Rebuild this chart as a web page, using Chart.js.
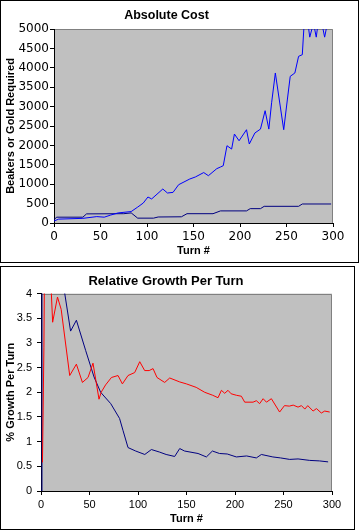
<!DOCTYPE html>
<html>
<head>
<meta charset="utf-8">
<script src="https://cdn.jsdelivr.net/npm/chart.js@4/dist/chart.umd.min.js"></script>
<style>
  html, body { margin: 0; padding: 0; background: #fff; }
  body { position: relative; width: 360px; height: 530px; overflow: hidden; }
  .box { position: absolute; border: 1px solid #000; box-sizing: border-box; background: #fff; }
  canvas { position: absolute; left: 0; }
</style>
</head>
<body>
<div class="box" style="left:0;top:0;width:359px;height:263px;"></div>
<div class="box" style="left:0;top:266px;width:355px;height:264px;"></div>
<canvas id="costChart" width="356" height="262" style="top:0;"></canvas>
<canvas id="growthChart" width="352" height="264" style="top:266px;"></canvas>
<script>
// ---- Absolute Cost (top) ----
const costTurnsA = [0, 5, 31, 46, 54, 61, 69, 83, 90, 96, 101, 105, 117, 122, 128, 134, 146, 152, 161, 166, 175, 179, 182, 186, 191, 194, 199, 207, 210, 216, 222, 227, 231, 234, 238, 247, 251, 254, 259, 263, 267, 269, 273, 275, 279, 282, 284, 288, 291, 294, 296];
const costValuesA = [50, 100, 120, 165, 150, 205, 260, 295, 410, 515, 670, 620, 876, 773, 789, 987, 1134, 1186, 1300, 1219, 1400, 1443, 1477, 1992, 1906, 2293, 2120, 2404, 2036, 2320, 2420, 2894, 2420, 3100, 3866, 2405, 3195, 3780, 3866, 4295, 4338, 5150, 5150, 4790, 5150, 4790, 5150, 5150, 4790, 5150, 5150];
const costTurnsB = [0, 3, 31, 35, 75, 83, 90, 107, 112, 137, 143, 171, 179, 207, 211, 222, 226, 263, 267, 298];
const costValuesB = [90, 150, 150, 235, 240, 260, 125, 125, 155, 160, 240, 240, 312, 312, 370, 370, 430, 430, 490, 490];

// ---- Relative Growth Per Turn (bottom) ----
const growthTurnsRed = [1.5, 3, 4.5, 10, 12, 17, 20.8, 29.6, 36.5, 42.7, 48.5, 53.6, 59.8, 62, 66.6, 72.6, 79.4, 83.9, 89.7, 96.6, 101.8, 106.9, 111.5, 115.5, 119.6, 127.5, 132.7, 143, 150, 160, 168.8, 177, 182.5, 186, 189.4, 192.8, 196, 201.4, 206.6, 210, 218.6, 222, 225.4, 229, 232.4, 237.5, 246, 251, 256, 260, 265, 268.5, 272, 275, 280.5, 284, 289, 292.5, 297.6];
const growthValuesRed = [0.58, 2.9, 7, 4.3, 3.42, 3.93, 3.68, 2.34, 2.57, 2.2, 2.3, 2.59, 1.86, 2.0, 2.15, 2.3, 2.34, 2.17, 2.34, 2.4, 2.62, 2.44, 2.44, 2.48, 2.3, 2.2, 2.29, 2.21, 2.17, 2.1, 2.0, 1.94, 1.89, 2.04, 1.98, 2.04, 1.97, 1.94, 1.92, 1.8, 1.8, 1.83, 1.77, 1.87, 1.8, 1.87, 1.6, 1.73, 1.72, 1.74, 1.7, 1.73, 1.66, 1.73, 1.62, 1.67, 1.58, 1.62, 1.6];
const growthTurnsNavy = [0, 1, 17, 24.5, 30.5, 36.5, 46, 54.7, 61.5, 71.9, 81, 84.5, 89.7, 97.6, 107, 113.8, 122, 129, 137.8, 143, 148, 161.9, 170.5, 176.7, 184, 192, 201.4, 212, 222, 227.2, 239, 247, 256.4, 265, 277, 287, 296];
const growthValuesNavy = [0, 30, 5.0, 4.0, 3.24, 3.46, 2.85, 2.31, 2.0, 1.77, 1.47, 1.23, 0.88, 0.81, 0.74, 0.84, 0.79, 0.74, 0.70, 0.86, 0.81, 0.76, 0.69, 0.81, 0.76, 0.75, 0.69, 0.71, 0.67, 0.74, 0.69, 0.67, 0.64, 0.65, 0.62, 0.61, 0.59];

const SANS = "'Liberation Sans', Arial, sans-serif";
const WIDE_TICK_FONT = { family: "'DejaVu Sans', sans-serif", size: 12 };   // top chart ticks are wider
const TICK_FONT = { family: SANS, size: 11 };
const BOLD_FONT = { family: SANS, size: 11, weight: 'bold' };

const pts = (xs, ys) => xs.map((x, i) => ({ x, y: ys[i] }));

// grey plot area with a grey frame on top/right (Excel style)
const plotBg = {
    id: 'plotBg',
    beforeDraw(chart) {
        const { ctx, chartArea: a } = chart;
        ctx.save();
        ctx.fillStyle = '#c0c0c0';
        ctx.fillRect(a.left, a.top, a.width, a.height);
        ctx.strokeStyle = '#808080';
        ctx.lineWidth = 1;
        ctx.beginPath();
        ctx.moveTo(a.left, Math.round(a.top) + 0.5);
        ctx.lineTo(Math.round(a.right) - 0.5, Math.round(a.top) + 0.5);
        ctx.lineTo(Math.round(a.right) - 0.5, a.bottom);
        ctx.stroke();
        ctx.restore();
    }
};

function axis(min, max, step, title, size, tickFont, tickPad) {
    return {
        type: 'linear', min, max,
        ticks: { stepSize: step, color: '#000', font: tickFont, padding: tickPad, callback: v => String(v) },
        grid: { drawOnChartArea: false, drawTicks: true, tickLength: 4, color: '#000', tickColor: '#000' },
        border: { color: '#000', width: 1 },
        title: { display: true, text: title, color: '#000', font: BOLD_FONT, padding: { top: 4, bottom: 4 } },
        afterFit: s => { if (s.isHorizontal()) s.height = size; else s.width = size; }
    };
}

function makeChart(id, title, titleSize, titlePad, datasets, x, y, padRight) {
    return new Chart(document.getElementById(id), {
        type: 'line',
        data: { datasets },
        options: {
            responsive: false,
            animation: false,
            layout: { padding: { left: 0, right: padRight, top: 0, bottom: 0 } },
            elements: { point: { radius: 0 }, line: { borderWidth: 1, tension: 0 } },
            plugins: {
                legend: { display: false },
                tooltip: { enabled: false },
                title: { display: true, text: title, color: '#000', font: { family: SANS, size: titleSize, weight: 'bold' }, padding: titlePad }
            },
            scales: { x, y }
        },
        plugins: [plotBg]
    });
}

makeChart('costChart', 'Absolute Cost', 12.5, { top: 8, bottom: 6 },
    [
        { data: pts(costTurnsA, costValuesA), borderColor: '#0000ff' },
        { data: pts(costTurnsB, costValuesB), borderColor: '#000080' }
    ],
    axis(0, 300, 50, 'Turn #', 39, WIDE_TICK_FONT, 3),
    axis(0, 5000, 500, 'Beakers or Gold Required', 54, WIDE_TICK_FONT, 1),
    23);

makeChart('growthChart', 'Relative Growth Per Turn', 13, { top: 8, bottom: 4 },
    [
        { data: pts(growthTurnsRed, growthValuesRed), borderColor: '#ff0000' },
        { data: pts(growthTurnsNavy, growthValuesNavy), borderColor: '#000080' }
    ],
    axis(0, 300, 50, 'Turn #', 39, TICK_FONT, 3),
    axis(0, 4, 0.5, '% Growth Per Turn', 41, TICK_FONT, 5),
    20);
</script>
</body>
</html>
